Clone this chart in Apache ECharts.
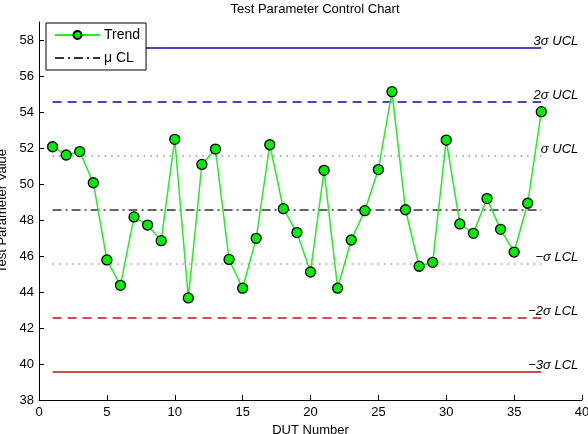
<!DOCTYPE html>
<html>
<head>
<meta charset="utf-8">
<script src="https://cdn.jsdelivr.net/npm/echarts@6/dist/echarts.min.js"></script>
<style>
  html, body { margin: 0; padding: 0; background: #fff; }
  #chart { width: 588px; height: 434px; }
</style>
</head>
<body>
<div id="chart"></div>
<script>
// DUT readings
const dutNumbers = [1, 2, 3, 4, 5, 6, 7, 8, 9, 10, 11, 12, 13, 14, 15, 16, 17, 18, 19, 20,
  21, 22, 23, 24, 25, 26, 27, 28, 29, 30, 31, 32, 33, 34, 35, 36, 37]
const trendValues = [52.07, 51.61, 51.80, 50.07, 45.78, 44.37, 48.17, 47.72, 46.85, 52.48,
  43.67, 51.09, 51.94, 45.81, 44.21, 46.98, 52.18, 48.63, 47.30, 45.11,
  50.76, 44.21, 46.89, 48.52, 50.80, 55.13, 48.57, 45.43, 45.65, 52.44,
  47.78, 47.26, 49.19, 47.48, 46.22, 48.93, 54.02]

// control limits
const limitNames = ['3σ UCL', '2σ UCL', 'σ UCL', 'μ CL', '−σ LCL', '−2σ LCL', '−3σ LCL']
const limitValues = [57.55, 54.55, 51.55, 48.55, 45.55, 42.55, 39.55]
const limitRange = [1, 37]

const xTicks = [0, 5, 10, 15, 20, 25, 30, 35, 40]
const yTicks = [38, 40, 42, 44, 46, 48, 50, 52, 54, 56, 58]

const limitStyles = [
  { color: '#4646c2', width: 2, type: 'solid' },
  { color: '#4646c2', width: 2, type: [9, 6] },
  { color: '#8a8ad8', width: 1.5, type: [1.5, 5] },
  { color: '#333333', width: 1.5, type: [9, 4, 2, 4] },
  { color: '#dc8c8c', width: 1.5, type: [1.5, 5] },
  { color: '#cf4f4f', width: 2, type: [9, 6] },
  { color: '#cf4f4f', width: 2, type: 'solid' }
]

const chart = echarts.init(document.getElementById('chart'))
const font = 'Liberation Sans, Arial, sans-serif'

let series = [{
  name: 'Trend',
  type: 'line',
  z: 5,
  data: dutNumbers.map((d, i) => [d, trendValues[i]]),
  symbol: 'circle',
  symbolSize: 10,
  lineStyle: { color: '#22ee22', width: 1.5 },
  itemStyle: { color: '#00ee00', borderColor: '#000', borderWidth: 1.3 },
  emphasis: { disabled: true }
}]

limitNames.forEach((name, i) => {
  let isMean = name === 'μ CL'
  series.push({
    name: name,
    type: 'line',
    z: 2,
    data: limitRange.map(x => [x, limitValues[i]]),
    symbol: 'none',
    lineStyle: limitStyles[i],
    itemStyle: { color: limitStyles[i].color },
    silent: true,
    endLabel: isMean ? { show: false } : {
      show: true,
      formatter: name,
      fontFamily: font,
      fontSize: 13,
      fontStyle: 'italic',
      color: '#000',
      align: 'right',
      verticalAlign: 'bottom',
      distance: 37,
      offset: [0, 0]
    }
  })
})

let option = {
  backgroundColor: '#fff',
  animation: false,
  title: {
    text: 'Test Parameter Control Chart',
    left: 310,
    textAlign: 'center',
    top: -2,
    textStyle: { fontFamily: font, fontSize: 13, fontWeight: 'normal', color: '#000' }
  },
  legend: {
    data: ['Trend', { name: 'μ CL', itemStyle: { opacity: 0 } }],
    orient: 'vertical',
    left: 46,
    top: 23,
    padding: [5, 6, 5, 8],
    itemWidth: 45,
    itemHeight: 10,
    itemGap: 9,
    borderColor: '#000',
    borderWidth: 1,
    borderRadius: 0,
    backgroundColor: '#fff',
    selectedMode: false,
    textStyle: { fontFamily: font, fontSize: 14, color: '#000', padding: [0, 0, 0, -1] }
  },
  grid: { left: 39, right: 6, top: 22, bottom: 34, containLabel: false, outerBoundsMode: 'none' },
  xAxis: {
    type: 'value',
    min: 0,
    max: 40,
    interval: 5,
    name: 'DUT Number',
    nameLocation: 'middle',
    nameGap: 24,
    nameTextStyle: { fontFamily: font, fontSize: 13, color: '#000' },
    axisLine: { lineStyle: { color: '#000', width: 1 } },
    axisTick: { inside: true, length: 5, lineStyle: { color: '#000' }, customValues: xTicks },
    axisLabel: { fontFamily: font, fontSize: 13, color: '#000', margin: 6, customValues: xTicks },
    splitLine: { show: false }
  },
  yAxis: {
    type: 'value',
    min: 38,
    max: 59,
    name: 'Test Parameter Value',
    nameLocation: 'middle',
    nameGap: 30,
    nameTextStyle: { fontFamily: font, fontSize: 13, color: '#000' },
    axisLine: { show: true, lineStyle: { color: '#000', width: 1 } },
    axisTick: { show: true, inside: true, length: 5, lineStyle: { color: '#000' }, customValues: yTicks },
    axisLabel: { fontFamily: font, fontSize: 13, color: '#000', margin: 5, customValues: yTicks },
    splitLine: { show: false }
  },
  series: series
}
chart.setOption(option)
</script>
</body>
</html>
